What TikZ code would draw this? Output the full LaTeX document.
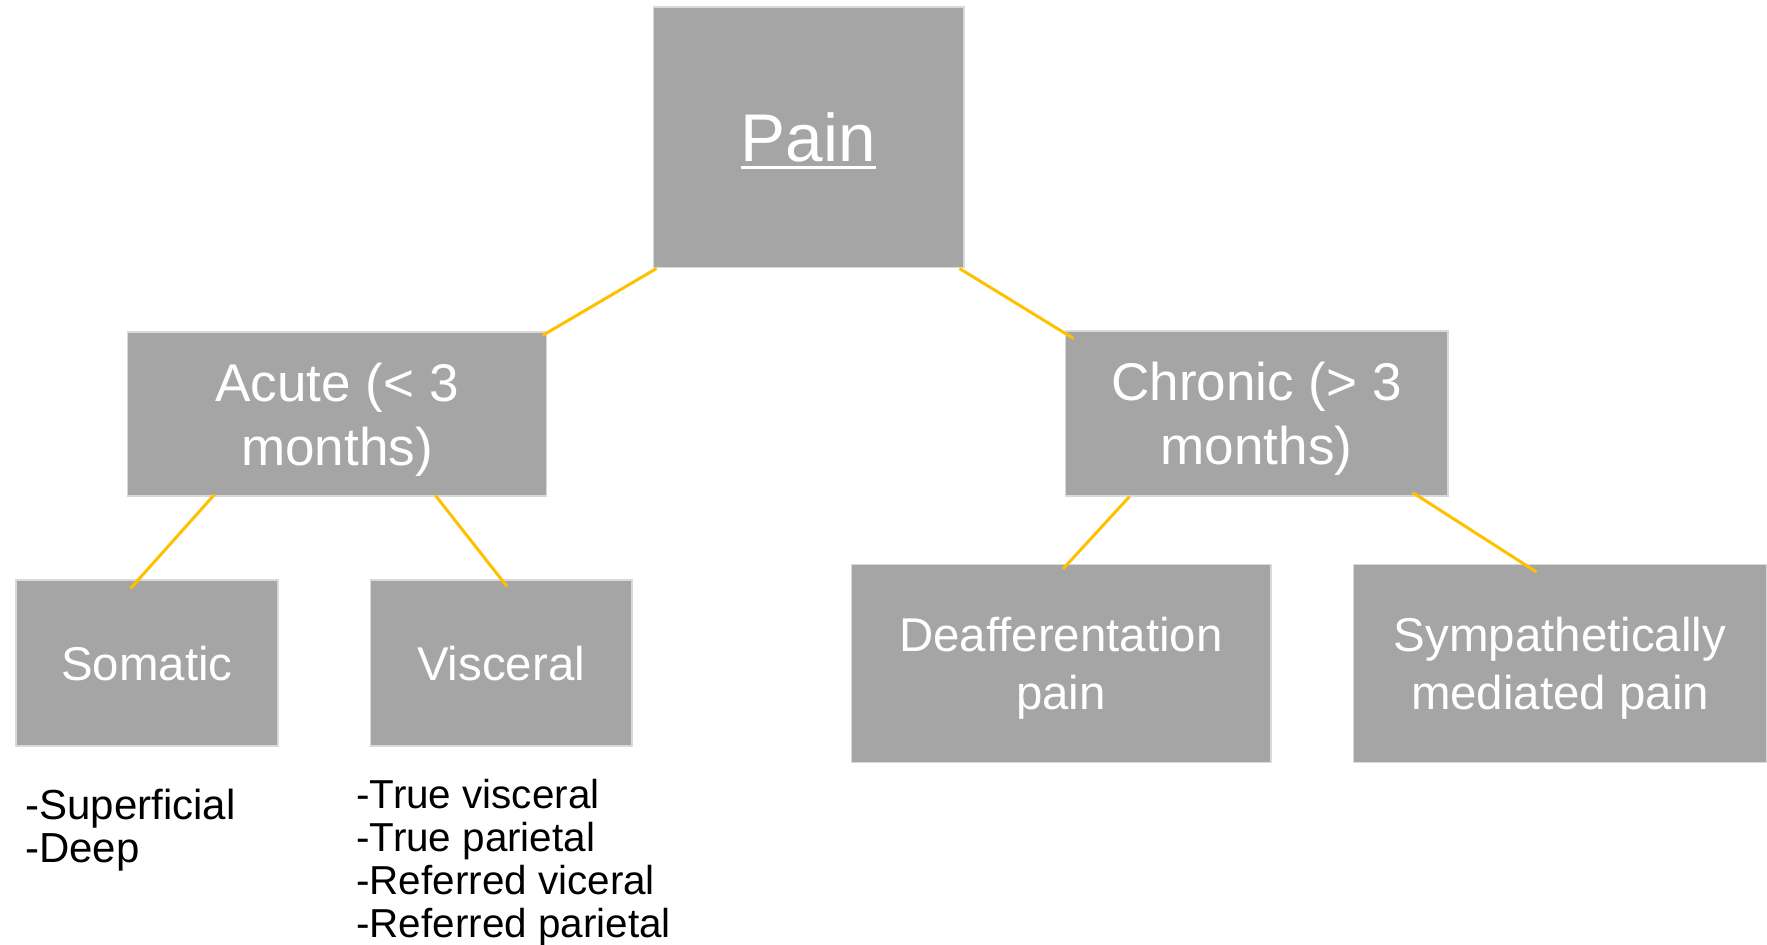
\documentclass[tikz,border=0pt]{standalone}
\usepackage{fontspec}
\setmainfont{Liberation Sans}
\usepackage{tikz}
\usetikzlibrary{calc}

\definecolor{boxgray}{HTML}{A5A5A5}
\definecolor{boxedge}{HTML}{D9D9D9}
\definecolor{linkgold}{HTML}{FFC000}

\newcommand{\thickul}[1]{\leavevmode\setbox0\hbox{#1}\rlap{\rule[-0.11em]{\wd0}{0.045em}}\box0}

\begin{document}
\begin{tikzpicture}[x=0.02cm,y=-0.02cm,
    box/.style={fill=boxgray,draw=boxedge,line width=0.6pt,text=white,align=center,inner sep=0pt,text depth=0pt},
    rootbox/.style={box,font=\fontsize{38.4}{46}\selectfont},
    groupbox/.style={box,font=\fontsize{30.2}{36.4}\selectfont},
    typebox/.style={box,font=\fontsize{27}{32.8}\selectfont},
    link/.style={draw=linkgold,line width=1.7pt},
    notes/.style={align=left,inner sep=0pt,anchor=north west}]
    \useasboundingbox (0,0) rectangle (1767,945);
    % boxes
    \node [rootbox,minimum width=6.22cm,minimum height=5.22cm] (pain) at (808.5,137.5) {\thickul{Pain}};
    \node [groupbox,minimum width=8.4cm,minimum height=3.28cm] (acute) at (337,414) {Acute (< 3\\months)};
    \node [groupbox,minimum width=7.66cm,minimum height=3.3cm] (chronic) at (1256.5,413.5) {Chronic (> 3\\months)};
    \node [typebox,minimum width=5.24cm,minimum height=3.32cm] (somatic) at (147,663) {Somatic};
    \node [typebox,minimum width=5.24cm,minimum height=3.32cm] (visceral) at (501,663) {Visceral};
    \node [typebox,minimum width=8.4cm,minimum height=3.96cm] (deaff) at (1061,663.5) {Deafferentation\\pain};
    \node [typebox,minimum width=8.28cm,minimum height=3.96cm] (symp) at (1560,663.5) {Sympathetically\\mediated pain};
    % lists
    \node [notes,font=\fontsize{23.9}{24.5}\selectfont] (somlist) at (25,789) {-Superficial\\-Deep};
    \node [notes,font=\fontsize{23}{24.5}\selectfont] (vislist) at (356,779) {-True visceral\\-True parietal\\-Referred viceral\\-Referred parietal};
    % links
    \begin{scope}[link]
      \draw ($(pain.south west)+(4,0)$) -- ($(acute.north east)+(-5,4)$);
      \draw ($(pain.south east)+(-5,0)$) -- ($(chronic.north west)+(9,8)$);
      \draw ($(acute.south west)+(88,-2)$) -- ($(somatic.north west)+(115,9)$);
      \draw ($(acute.south east)+(-112,-1)$) -- ($(visceral.north)+(6,7)$);
      \draw ($(chronic.south west)+(65,0)$) -- ($(deaff.north)+(2,5)$);
      \draw ($(chronic.south east)+(-36,-4)$) -- ($(symp.north west)+(184,8)$);
    \end{scope}
\end{tikzpicture}
\end{document}
